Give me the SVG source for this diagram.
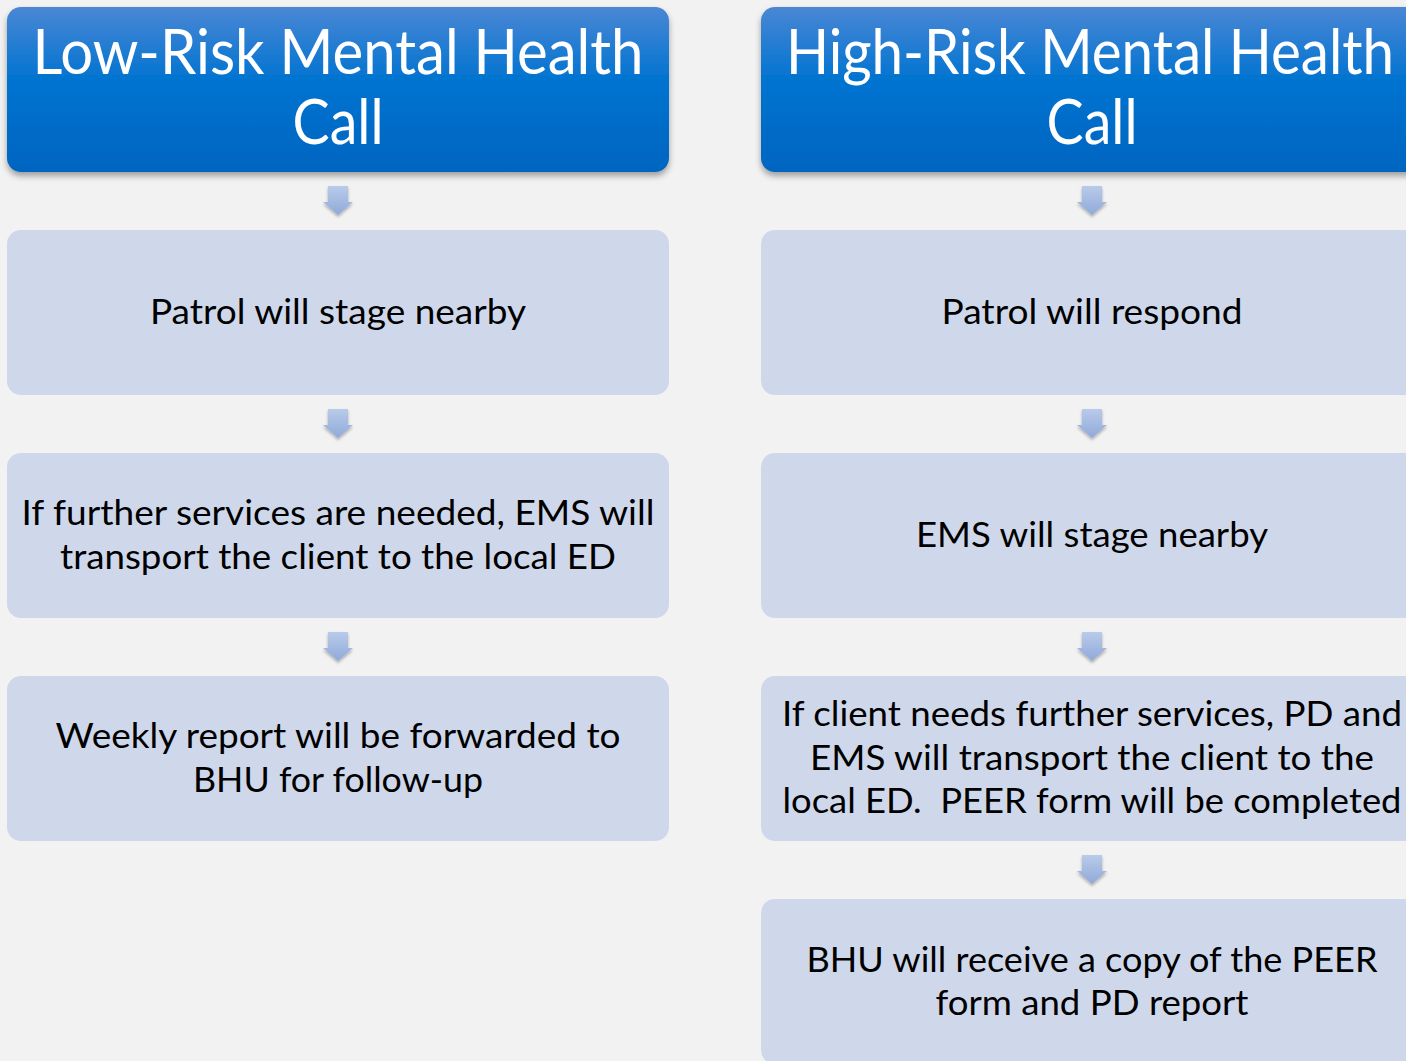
<svg xmlns="http://www.w3.org/2000/svg" width="1406" height="1061" viewBox="0 0 1406 1061">
<defs>
<linearGradient id="hdr" x1="0" y1="0" x2="0" y2="1">
<stop offset="0" stop-color="#4a87d5"/>
<stop offset="0.45" stop-color="#0073d0"/>
<stop offset="1" stop-color="#0065c1"/>
</linearGradient>
<linearGradient id="arr" x1="0" y1="0" x2="0" y2="1">
<stop offset="0" stop-color="#b9cbea"/>
<stop offset="1" stop-color="#8fa9d8"/>
</linearGradient>
<filter id="sh" x="-10%" y="-10%" width="120%" height="130%">
<feDropShadow dx="0" dy="4" stdDeviation="3" flood-color="#000" flood-opacity="0.35"/>
</filter>
<filter id="ash" x="-50%" y="-50%" width="200%" height="200%">
<feDropShadow dx="0" dy="2" stdDeviation="1.5" flood-color="#000" flood-opacity="0.3"/>
</filter>
<path id="a" d="M-10,0 H10 V16 H15 L0,29 L-15,16 H-10 Z"/>
</defs>
<style>
.h{fill:url(#hdr);filter:url(#sh)}
.b{fill:#cfd8eb}
.ht{font-family:Lato,"Open Sans",sans-serif;font-size:62px;fill:#fff;text-anchor:middle}
.t{font-family:Lato,"Open Sans",sans-serif;font-size:35px;fill:#000;text-anchor:middle}
.ar{fill:url(#arr);filter:url(#ash)}
</style>
<rect width="1406" height="1061" fill="#f2f2f2"/>
<g id="connectors">
<use href="#a" class="ar" x="338" y="186"/>
<use href="#a" class="ar" x="338" y="409"/>
<use href="#a" class="ar" x="338" y="632"/>
<use href="#a" class="ar" x="1092" y="186"/>
<use href="#a" class="ar" x="1092" y="409"/>
<use href="#a" class="ar" x="1092" y="632"/>
<use href="#a" class="ar" x="1092" y="855"/>
</g>
<g id="low-header">
<rect class="h" x="7" y="7" width="662" height="165" rx="14"/>
<text class="ht" x="338" y="74" textLength="611" lengthAdjust="spacingAndGlyphs">Low-Risk Mental Health</text>
<text class="ht" x="338" y="144" textLength="91" lengthAdjust="spacingAndGlyphs">Call</text>
</g>
<g id="low-1">
<rect class="b" x="7" y="230" width="662" height="165" rx="14"/>
<text class="t" x="338" y="324" textLength="376" lengthAdjust="spacingAndGlyphs">Patrol will stage nearby</text>
</g>
<g id="low-2">
<rect class="b" x="7" y="453" width="662" height="165" rx="14"/>
<text class="t" x="338" y="525" textLength="633" lengthAdjust="spacingAndGlyphs">If further services are needed, EMS will</text>
<text class="t" x="338" y="569" textLength="556" lengthAdjust="spacingAndGlyphs">transport the client to the local ED</text>
</g>
<g id="low-3">
<rect class="b" x="7" y="676" width="662" height="165" rx="14"/>
<text class="t" x="338" y="748" textLength="565" lengthAdjust="spacingAndGlyphs">Weekly report will be forwarded to</text>
<text class="t" x="338" y="792" textLength="290" lengthAdjust="spacingAndGlyphs">BHU for follow-up</text>
</g>
<g id="high-header">
<rect class="h" x="761" y="7" width="662" height="165" rx="14"/>
<text class="ht" x="1090" y="74" textLength="608" lengthAdjust="spacingAndGlyphs">High-Risk Mental Health</text>
<text class="ht" x="1092" y="144" textLength="91" lengthAdjust="spacingAndGlyphs">Call</text>
</g>
<g id="high-1">
<rect class="b" x="761" y="230" width="662" height="165" rx="14"/>
<text class="t" x="1092" y="324" textLength="301" lengthAdjust="spacingAndGlyphs">Patrol will respond</text>
</g>
<g id="high-2">
<rect class="b" x="761" y="453" width="662" height="165" rx="14"/>
<text class="t" x="1092" y="547" textLength="352" lengthAdjust="spacingAndGlyphs">EMS will stage nearby</text>
</g>
<g id="high-3">
<rect class="b" x="761" y="676" width="662" height="165" rx="14"/>
<text class="t" x="1092" y="726" textLength="620" lengthAdjust="spacingAndGlyphs">If client needs further services, PD and</text>
<text class="t" x="1092" y="770" textLength="564" lengthAdjust="spacingAndGlyphs">EMS will transport the client to the</text>
<text class="t" x="1092" y="813" textLength="619" lengthAdjust="spacingAndGlyphs" xml:space="preserve">local ED.  PEER form will be completed</text>
</g>
<g id="high-4">
<rect class="b" x="761" y="899" width="662" height="165" rx="14"/>
<text class="t" x="1092" y="972" textLength="571" lengthAdjust="spacingAndGlyphs">BHU will receive a copy of the PEER</text>
<text class="t" x="1092" y="1015" textLength="313" lengthAdjust="spacingAndGlyphs">form and PD report</text>
</g>
</svg>
